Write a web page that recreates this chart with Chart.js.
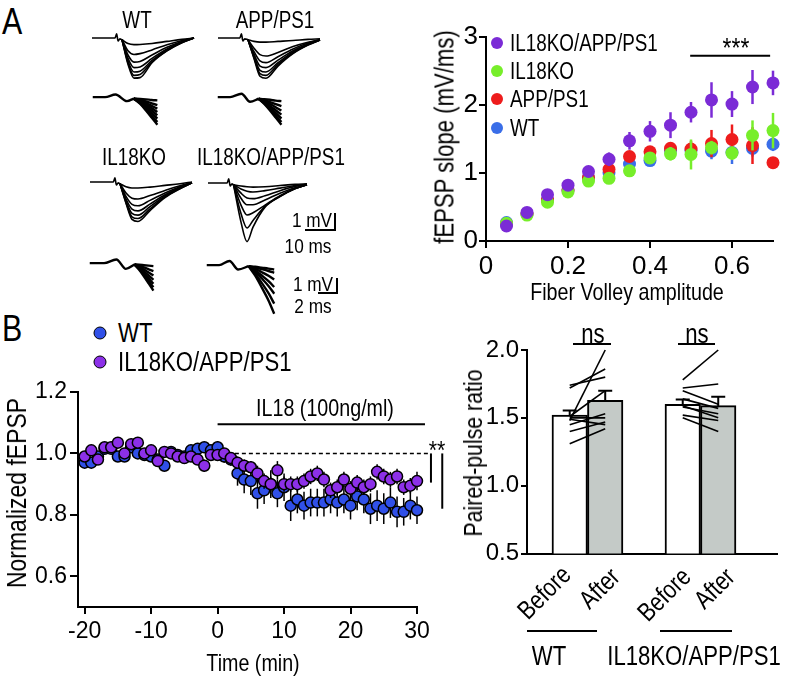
<!DOCTYPE html>
<html>
<head>
<meta charset="utf-8">
<script src="https://cdn.jsdelivr.net/npm/chart.js@4.4.1/dist/chart.umd.min.js"></script>
<style>
  body { margin: 0; width: 793px; height: 683px; position: relative; overflow: hidden; background: #fff;
         font-family: "Liberation Sans", Arial, sans-serif; color: #000; }
  canvas { position: absolute; }
  .t { position: absolute; white-space: nowrap; line-height: 1; }
  .c { transform: translate(-50%, -50%) scaleX(0.82); }
  .l { transform-origin: 0 50%; transform: translateY(-50%) scaleX(0.82); }
  .v { transform: translate(-50%, -50%) rotate(-90deg) scaleX(0.82); }
  .rot { transform-origin: 100% 50%; transform: translate(-100%, -50%) rotate(-45deg) scaleX(0.82); }
  .dot { position: absolute; border-radius: 50%; transform: translate(-50%, -50%); }
  .hl { position: absolute; border-top: 2px solid #000; height: 0; }
  .bar { position: absolute; box-sizing: border-box; border-right: 2px solid #000; border-bottom: 2px solid #000; }
</style>
</head>
<body>
<!-- panel A traces -->
<canvas id="epspWT"></canvas><canvas id="epspAPP"></canvas><canvas id="epspKO"></canvas><canvas id="epspDKO"></canvas>
<canvas id="fvWT"></canvas><canvas id="fvAPP"></canvas><canvas id="fvKO"></canvas><canvas id="fvDKO"></canvas>
<canvas id="ioChart" width="373" height="290" style="left:420px;top:20px"></canvas>
<canvas id="timeChart" width="450" height="313" style="left:0px;top:370px"></canvas>
<canvas id="pprChart" width="343" height="250" style="left:450px;top:320px"></canvas>

<div class="t c" style="left:12px;top:21px;font-size:37px">A</div>
<div class="t c" style="left:137px;top:20px;font-size:23px">WT</div>
<div class="t c" style="left:275px;top:20px;font-size:23px">APP/PS1</div>
<div class="t c" style="left:134px;top:157px;font-size:23px">IL18KO</div>
<div class="t c" style="left:271px;top:157px;font-size:23px">IL18KO/APP/PS1</div>

<div class="bar" style="left:305px;top:213px;width:31px;height:18px"></div>
<div class="t c" style="left:312px;top:219px;font-size:21px">1 mV</div>
<div class="t c" style="left:308px;top:245px;font-size:21px">10 ms</div>
<div class="bar" style="left:318px;top:278px;width:20px;height:16px"></div>
<div class="t c" style="left:313px;top:283px;font-size:21px">1 mV</div>
<div class="t c" style="left:313px;top:305px;font-size:21px">2 ms</div>

<div class="dot" style="left:497px;top:43px;width:12px;height:12px;background:#7b2bd6"></div>
<div class="t l" style="left:510px;top:43px;font-size:23px">IL18KO/APP/PS1</div>
<div class="dot" style="left:497px;top:71px;width:12px;height:12px;background:#77ee2a"></div>
<div class="t l" style="left:510px;top:71px;font-size:23px">IL18KO</div>
<div class="dot" style="left:497px;top:99px;width:12px;height:12px;background:#ee1c1c"></div>
<div class="t l" style="left:510px;top:99px;font-size:23px">APP/PS1</div>
<div class="dot" style="left:497px;top:128px;width:12px;height:12px;background:#3a6ee8"></div>
<div class="t l" style="left:510px;top:128px;font-size:23px">WT</div>
<div class="t c" style="left:736px;top:48px;font-size:28px">***</div>
<div class="t v" style="left:445px;top:137px;font-size:27px">fEPSP slope (mV/ms)</div>
<div class="t c" style="left:627px;top:292px;font-size:24px">Fiber Volley amplitude</div>

<!-- panel B -->
<div class="t c" style="left:12px;top:328px;font-size:37px">B</div>
<div class="dot" style="left:100px;top:333px;width:11px;height:11px;background:#3050e8;border:1.5px solid #000"></div>
<div class="t l" style="left:118px;top:333px;font-size:27px">WT</div>
<div class="dot" style="left:100px;top:362px;width:11px;height:11px;background:#8c30e8;border:1.5px solid #000"></div>
<div class="t l" style="left:118px;top:362px;font-size:27px">IL18KO/APP/PS1</div>
<div class="t c" style="left:325px;top:408px;font-size:24px">IL18 (100ng/ml)</div>
<div class="t c" style="left:437px;top:450px;font-size:26px">**</div>
<div class="t v" style="left:17px;top:493px;font-size:28px">Normalized fEPSP</div>
<div class="t c" style="left:253px;top:663px;font-size:24px">Time (min)</div>

<div class="t v" style="left:473px;top:453px;font-size:26px">Paired-pulse ratio</div>
<div class="t c" style="left:593px;top:334px;font-size:27px">ns</div>
<div class="hl" style="left:573px;top:343px;width:38px"></div>
<div class="t c" style="left:697px;top:334px;font-size:27px">ns</div>
<div class="hl" style="left:678px;top:343px;width:37px"></div>
<div class="t rot" style="left:566px;top:570px;font-size:26px">Before</div>
<div class="t rot" style="left:615px;top:572px;font-size:26px">After</div>
<div class="t rot" style="left:686px;top:572px;font-size:26px">Before</div>
<div class="t rot" style="left:730px;top:572px;font-size:26px">After</div>
<div class="hl" style="left:527px;top:630px;width:70px"></div>
<div class="hl" style="left:660px;top:630px;width:72px"></div>
<div class="t c" style="left:549px;top:656px;font-size:27px">WT</div>
<div class="t c" style="left:694px;top:656px;font-size:27px">IL18KO/APP/PS1</div>

<script>
// ---------- panel A: example traces (ms, mV) ----------
const wtArtifactT = [0, 7.7, 8.2, 8.7, 9.3, 10];
const appArtifactT = [0, 7.3, 7.8, 8.3, 8.9, 10];
const koArtifactT = [0, 7.8, 8.3, 8.8, 9.4, 10];
const dkoArtifactT = [0, 6.4, 6.9, 7.4, 8.0, 8.5];
const artifactV = [0, 0, 0.25, -0.18, -0.05, -0.1];

const epspT = [10, 12, 14, 16, 20, 25, 30, 34];
const dkoEpspT = [8.5, 11, 13, 15, 19, 24, 29, 33];
const wtEpsp = [
  [-0.1, -0.33, -0.39, -0.38, -0.32, -0.2, -0.08, 0],
  [-0.1, -0.75, -0.97, -0.92, -0.7, -0.4, -0.15, 0],
  [-0.1, -1.0, -1.42, -1.38, -1.0, -0.55, -0.2, 0],
  [-0.1, -1.2, -1.74, -1.7, -1.2, -0.65, -0.22, 0],
  [-0.1, -1.35, -2.0, -1.95, -1.32, -0.7, -0.25, 0],
  [-0.1, -1.45, -2.2, -2.15, -1.4, -0.74, -0.27, 0],
  [-0.1, -1.55, -2.36, -2.33, -1.45, -0.76, -0.28, 0],
];
const appEpsp = [
  [-0.1, -0.2, -0.24, -0.24, -0.2, -0.15, -0.08, -0.05],
  [-0.1, -0.6, -0.98, -1.06, -0.85, -0.5, -0.25, -0.1],
  [-0.1, -0.8, -1.35, -1.45, -1.1, -0.65, -0.3, -0.1],
  [-0.1, -0.95, -1.65, -1.74, -1.3, -0.75, -0.35, -0.12],
  [-0.1, -1.05, -1.9, -2.0, -1.45, -0.82, -0.38, -0.12],
  [-0.1, -1.15, -2.1, -2.2, -1.55, -0.88, -0.4, -0.12],
  [-0.1, -1.2, -2.25, -2.37, -1.65, -0.92, -0.42, -0.12],
];
const koEpsp = [
  [-0.1, -0.28, -0.35, -0.35, -0.3, -0.2, -0.1, 0],
  [-0.1, -0.65, -0.95, -1.0, -0.8, -0.5, -0.22, -0.03],
  [-0.1, -0.85, -1.32, -1.4, -1.08, -0.65, -0.28, -0.04],
  [-0.1, -1.0, -1.6, -1.7, -1.3, -0.75, -0.32, -0.05],
  [-0.1, -1.1, -1.85, -1.95, -1.45, -0.82, -0.35, -0.05],
  [-0.1, -1.2, -2.05, -2.15, -1.58, -0.88, -0.38, -0.05],
  [-0.1, -1.25, -2.2, -2.32, -1.68, -0.92, -0.4, -0.05],
];
const dkoEpsp = [
  [-0.1, -0.18, -0.22, -0.24, -0.22, -0.15, -0.08, -0.05],
  [-0.1, -0.35, -0.48, -0.53, -0.45, -0.3, -0.15, -0.08],
  [-0.1, -0.6, -0.88, -0.92, -0.75, -0.45, -0.2, -0.08],
  [-0.1, -0.9, -1.28, -1.28, -1.0, -0.6, -0.28, -0.1],
  [-0.1, -1.3, -1.88, -1.75, -1.3, -0.75, -0.32, -0.1],
  [-0.1, -1.8, -2.65, -2.2, -1.38, -0.78, -0.33, -0.1],
  [-0.1, -2.3, -3.45, -2.6, -1.42, -0.8, -0.34, -0.1],
];

// fiber volley: shared onset, then the fan of traces
const wtFvOnsetT = [0, 1.3, 2.4, 3.6, 4.3];
const wtFvOnsetV = [0, 0, 0.17, -0.27, -0.1];
const appFvOnsetT = [0, 1.3, 2.5, 3.4, 4.3];
const appFvOnsetV = [0, 0, 0.22, -0.31, -0.11];
const koFvOnsetT = [0, 1.5, 2.8, 3.8, 4.7];
const koFvOnsetV = [0, 0, 0.24, -0.38, -0.09];
const dkoFvOnsetT = [0, 1.3, 2.4, 3.3, 4.4];
const dkoFvOnsetV = [0, 0, 0.27, -0.29, -0.07];

const wtFanT = [4.3, 5.0, 5.6, 6.2, 6.8];
const appFanT = [4.3, 4.9, 5.5, 6.1, 6.7];
const koFanT = [4.7, 5.2, 5.7, 6.2, 6.7];
const dkoFanT = [4.4, 5.1, 5.8, 6.5, 7.1];
const wtFan = [
  [-0.1, -0.12, -0.15, -0.19, -0.22],
  [-0.1, -0.19, -0.29, -0.41, -0.53],
  [-0.1, -0.23, -0.4, -0.58, -0.76],
  [-0.1, -0.28, -0.5, -0.73, -0.98],
  [-0.1, -0.32, -0.6, -0.89, -1.2],
  [-0.1, -0.36, -0.69, -1.05, -1.42],
  [-0.1, -0.41, -0.8, -1.22, -1.65],
  [-0.1, -0.45, -0.88, -1.35, -1.83],
];
const appFan = [
  [-0.11, -0.14, -0.18, -0.23, -0.27],
  [-0.11, -0.21, -0.33, -0.46, -0.6],
  [-0.11, -0.27, -0.46, -0.67, -0.89],
  [-0.11, -0.32, -0.58, -0.87, -1.16],
  [-0.11, -0.37, -0.7, -1.05, -1.42],
  [-0.11, -0.42, -0.8, -1.22, -1.65],
  [-0.11, -0.45, -0.88, -1.35, -1.83],
];
const koFan = [
  [-0.09, -0.11, -0.14, -0.17, -0.2],
  [-0.09, -0.18, -0.29, -0.41, -0.53],
  [-0.09, -0.24, -0.42, -0.62, -0.82],
  [-0.09, -0.29, -0.55, -0.82, -1.11],
  [-0.09, -0.35, -0.67, -1.01, -1.37],
  [-0.09, -0.39, -0.77, -1.18, -1.6],
  [-0.09, -0.44, -0.87, -1.34, -1.82],
];
const dkoFan = [
  [-0.07, -0.11, -0.17, -0.23, -0.29],
  [-0.07, -0.16, -0.27, -0.39, -0.51],
  [-0.07, -0.25, -0.47, -0.7, -0.95],
  [-0.07, -0.35, -0.69, -1.06, -1.45],
  [-0.07, -0.43, -0.89, -1.38, -1.89],
  [-0.07, -0.57, -1.19, -1.86, -2.55],
  [-0.07, -0.7, -1.49, -2.34, -3.22],
];

// ---------- panel A: input/output ----------
const fvAmplitude = [0.05, 0.1, 0.15, 0.2, 0.25, 0.3, 0.35, 0.4, 0.45, 0.5, 0.55, 0.6, 0.65, 0.7];
const slopeDKO = [0.22, 0.42, 0.68, 0.82, 1.02, 1.2, 1.47, 1.61, 1.7, 1.89, 2.07, 2.01, 2.26, 2.32];
const errDKO = [0.03, 0.03, 0.05, 0.05, 0.07, 0.1, 0.13, 0.15, 0.19, 0.15, 0.26, 0.19, 0.25, 0.18];
const slopeKO = [0.26, 0.38, 0.57, 0.72, 0.88, 0.92, 1.03, 1.22, 1.28, 1.27, 1.37, 1.29, 1.55, 1.62];
const errKO = [0.03, 0.03, 0.04, 0.04, 0.05, 0.08, 0.08, 0.08, 0.1, 0.22, 0.1, 0.1, 0.22, 0.26];
const slopeAPP = [0.25, 0.4, 0.6, 0.75, 0.93, 1.05, 1.24, 1.31, 1.36, 1.35, 1.43, 1.49, 1.4, 1.15];
const errAPP = [0.03, 0.03, 0.04, 0.04, 0.06, 0.08, 0.08, 0.08, 0.08, 0.12, 0.2, 0.22, 0.27, 0.08];
const slopeWT = [0.27, 0.4, 0.6, 0.75, 0.93, 1.0, 1.13, 1.18, 1.33, 1.33, 1.32, 1.3, 1.36, 1.42];
const errWT = [0.03, 0.03, 0.04, 0.04, 0.05, 0.06, 0.06, 0.07, 0.08, 0.1, 0.12, 0.17, 0.12, 0.1];
const ioXTicks = [0, 0.2, 0.4, 0.6];
const ioXTickLabels = ["0", "0.2", "0.4", "0.6"];
const ioYTicks = [0, 1, 2, 3];

// ---------- panel B: time course ----------
const timeMin = [-20, -19, -18, -17, -16, -15, -14, -13, -12, -11, -10, -9, -8, -7, -6, -5, -4, -3, -2, -1,
  0, 1, 2, 3, 4, 5, 6, 7, 8, 9, 10, 11, 12, 13, 14, 15, 16, 17, 18, 19, 20, 21, 22, 23, 24, 25, 26, 27, 28, 29, 30];
const normWT = [0.97, 0.97, 0.99, 1.015, 1.015, 0.99, 0.99, 1.02, 1.0, 0.995, 0.99, 0.98, 0.96, 1.005, 0.995, 0.99, 1.01, 1.015, 1.02, 1.01,
  1.02, 0.99, 0.98, 0.935, 0.915, 0.91, 0.87, 0.88, 0.9, 0.87, 0.89, 0.83, 0.85, 0.83, 0.84, 0.84, 0.84, 0.85, 0.84, 0.85,
  0.83, 0.86, 0.85, 0.82, 0.83, 0.82, 0.84, 0.81, 0.81, 0.83, 0.815];
const semWT = [0.015, 0.015, 0.015, 0.015, 0.015, 0.015, 0.015, 0.015, 0.015, 0.015, 0.015, 0.015, 0.015, 0.015, 0.015, 0.015, 0.015, 0.015, 0.015, 0.015,
  0.02, 0.02, 0.02, 0.04, 0.045, 0.045, 0.05, 0.045, 0.045, 0.045, 0.045, 0.05, 0.045, 0.045, 0.045, 0.045, 0.045, 0.045, 0.045, 0.045,
  0.045, 0.045, 0.045, 0.05, 0.05, 0.05, 0.05, 0.05, 0.045, 0.045, 0.045];
const normDKO = [0.99, 1.01, 0.98, 1.02, 1.02, 1.035, 1.0, 1.03, 1.035, 1.0, 1.01, 0.975, 1.005, 1.0, 0.99, 0.985, 0.99, 0.98, 0.96, 0.995,
  0.995, 1.0, 0.985, 0.97, 0.96, 0.955, 0.935, 0.91, 0.9, 0.945, 0.9, 0.9, 0.9, 0.91, 0.925, 0.935, 0.915, 0.88, 0.89, 0.915,
  0.885, 0.905, 0.89, 0.9, 0.94, 0.925, 0.915, 0.925, 0.89, 0.895, 0.91];
const semDKO = [0.012, 0.012, 0.012, 0.012, 0.012, 0.012, 0.012, 0.012, 0.012, 0.012, 0.012, 0.012, 0.012, 0.012, 0.012, 0.012, 0.012, 0.012, 0.02, 0.012,
  0.012, 0.015, 0.015, 0.02, 0.02, 0.02, 0.025, 0.025, 0.025, 0.03, 0.025, 0.025, 0.025, 0.025, 0.025, 0.025, 0.025, 0.025, 0.025, 0.025,
  0.025, 0.025, 0.025, 0.025, 0.025, 0.025, 0.025, 0.025, 0.025, 0.025, 0.03];
const timeTicks = [-20, -10, 0, 10, 20, 30];
const normTicks = [0.6, 0.8, 1.0, 1.2];
const normTickLabels = ["0.6", "0.8", "1.0", "1.2"];

// ---------- panel B: paired-pulse ratio ----------
const pprGroups = ["WT", "IL18KO/APP/PS1"];
const pprBefore = [1.52, 1.6];
const pprAfter = [1.63, 1.59];
const pprBeforeSem = [0.035, 0.035];
const pprAfterSem = [0.07, 0.065];
const wtPairBefore = [1.31, 1.4, 1.45, 1.5, 1.49, 1.48, 1.72, 1.74, 1.51];
const wtPairAfter = [1.42, 1.47, 1.53, 1.5, 1.45, 2.0, 1.86, 1.8, 1.7];
const dkoPairBefore = [1.78, 1.72, 1.7, 1.64, 1.58, 1.52, 1.5, 1.59];
const dkoPairAfter = [2.0, 1.75, 1.6, 1.57, 1.53, 1.48, 1.4, 1.5];
const pprTicks = [0.5, 1.0, 1.5, 2.0];
const pprTickLabels = ["0.5", "1.0", "1.5", "2.0"];

// ---------------------------------------------------------------
Chart.defaults.font.family = '"Liberation Sans", Arial, sans-serif';
Chart.defaults.color = "#000";
Chart.defaults.animation = false;
Chart.defaults.responsive = false;
Chart.defaults.plugins.legend.display = false;
Chart.defaults.plugins.tooltip.enabled = false;

const toXY = (xs, ys) => xs.map((x, i) => ({ x, y: ys[i] }));

const errorBarPlugin = {
  id: "errorBars",
  beforeDatasetDraw(chart, args) {
    const ds = chart.data.datasets[args.index];
    if (!ds.errors) return;
    const yScale = chart.scales.y;
    const ctx = chart.ctx;
    ctx.save();
    ctx.strokeStyle = ds.errorColor || "#000";
    ctx.lineWidth = ds.errorWidth || 1.5;
    args.meta.data.forEach((el, i) => {
      const v = ds.data[i].y;
      const e = ds.errors[i];
      const top = yScale.getPixelForValue(v + e);
      const bottom = yScale.getPixelForValue(v - e);
      ctx.beginPath();
      ctx.moveTo(el.x, top);
      ctx.lineTo(el.x, bottom);
      if (ds.errorCap) {
        ctx.moveTo(el.x - ds.errorCap, top);
        ctx.lineTo(el.x + ds.errorCap, top);
      }
      ctx.stroke();
    });
    ctx.restore();
  },
};

const segment = (chart, x1, y1, x2, y2, width, dash) => {
  const { ctx, scales } = chart;
  ctx.save();
  ctx.strokeStyle = "#000";
  ctx.lineWidth = width;
  ctx.setLineDash(dash || []);
  ctx.beginPath();
  ctx.moveTo(scales.x.getPixelForValue(x1), scales.y.getPixelForValue(y1));
  ctx.lineTo(scales.x.getPixelForValue(x2), scales.y.getPixelForValue(y2));
  ctx.stroke();
  ctx.restore();
};

const fixedTicks = (values) => (scale) => {
  scale.ticks = values.map((value) => ({ value }));
};

// trace panels: origin (t=0, 0 mV) in page px, px per ms / per mV
const makeTraceChart = (id, x0, y0, pxMs, pxMv, tRange, vRange, segments, lineWidth) => {
  const canvas = document.getElementById(id);
  canvas.width = Math.round((tRange[1] - tRange[0]) * pxMs);
  canvas.height = Math.round((vRange[1] - vRange[0]) * pxMv);
  canvas.style.left = x0 + tRange[0] * pxMs + "px";
  canvas.style.top = y0 - vRange[1] * pxMv + "px";
  new Chart(canvas, {
    type: "line",
    data: {
      datasets: segments.map(([ts, vs]) => ({
        data: toXY(ts, vs),
        borderColor: "#000",
        borderWidth: lineWidth,
        pointRadius: 0,
        cubicInterpolationMode: "monotone",
        clip: false,
      })),
    },
    options: {
      layout: { padding: 0 },
      scales: {
        x: { type: "linear", display: false, min: tRange[0], max: tRange[1] },
        y: { type: "linear", display: false, min: vRange[0], max: vRange[1] },
      },
    },
  });
};

const epspSegments = (artT, traceT, traces) =>
  [[artT, artifactV]].concat(traces.map((tr) => [traceT, tr]));
const fvSegments = (onT, onV, fanT, fan) => [[onT, onV]].concat(fan.map((tr) => [fanT, tr]));

const EPSP_T = [-1, 36], EPSP_V = [-4, 1];
makeTraceChart("epspWT", 92, 38.3, 3, 17, EPSP_T, EPSP_V, epspSegments(wtArtifactT, epspT, wtEpsp), 1.6);
makeTraceChart("epspAPP", 217.7, 38.3, 3, 17, EPSP_T, EPSP_V, epspSegments(appArtifactT, epspT, appEpsp), 1.6);
makeTraceChart("epspKO", 90, 181.7, 3, 17, EPSP_T, EPSP_V, epspSegments(koArtifactT, epspT, koEpsp), 1.6);
makeTraceChart("epspDKO", 207.7, 182.7, 3, 17, EPSP_T, EPSP_V, epspSegments(dkoArtifactT, dkoEpspT, dkoEpsp), 1.6);

const FV_T = [-0.5, 7.5], FV_V = [-3.5, 0.8];
makeTraceChart("fvWT", 92.3, 97.3, 9.5, 15, FV_T, FV_V, fvSegments(wtFvOnsetT, wtFvOnsetV, wtFanT, wtFan), 2.4);
makeTraceChart("fvAPP", 217.7, 97.3, 9.5, 15, FV_T, FV_V, fvSegments(appFvOnsetT, appFvOnsetV, appFanT, appFan), 2.4);
makeTraceChart("fvKO", 90, 262.7, 9.5, 15, FV_T, FV_V, fvSegments(koFvOnsetT, koFvOnsetV, koFanT, koFan), 2.4);
makeTraceChart("fvDKO", 206.7, 265, 9.5, 15, FV_T, FV_V, fvSegments(dkoFvOnsetT, dkoFvOnsetV, dkoFanT, dkoFan), 2.4);

const axisStyle = (tickLength) => ({
  grid: { drawOnChartArea: false, drawTicks: true, tickLength, color: "#000", lineWidth: 2 },
  border: { display: true, color: "#000", width: 2 },
});

// ---------- input/output chart ----------
const ioDataset = (label, ys, errs, color) => ({
  label,
  data: toXY(fvAmplitude, ys),
  errors: errs,
  errorColor: color,
  errorWidth: 2.5,
  backgroundColor: color,
  borderColor: color,
  pointRadius: 6.5,
  pointBorderWidth: 0,
  clip: false,
});

new Chart(document.getElementById("ioChart"), {
  type: "scatter",
  data: {
    datasets: [
      ioDataset("IL18KO/APP/PS1", slopeDKO, errDKO, "#7b2bd6"),
      ioDataset("IL18KO", slopeKO, errKO, "#77ee2a"),
      ioDataset("APP/PS1", slopeAPP, errAPP, "#ee1c1c"),
      ioDataset("WT", slopeWT, errWT, "#3a6ee8"),
    ],
  },
  options: {
    layout: { padding: { left: 4, top: 14, right: 20, bottom: 0 } },
    scales: {
      x: {
        type: "linear", min: 0, max: 0.7,
        afterBuildTicks: fixedTicks(ioXTicks),
        afterFit: (s) => { s.height = 69; },
        ticks: { callback: (v, i) => ioXTickLabels[i], font: { size: 26 }, padding: 3, maxRotation: 0 },
        ...axisStyle(7),
      },
      y: {
        type: "linear", min: 0, max: 3,
        afterBuildTicks: fixedTicks(ioYTicks),
        afterFit: (s) => { s.width = 62; },
        ticks: { font: { size: 26 }, padding: 1 },
        ...axisStyle(7),
      },
    },
  },
  plugins: [errorBarPlugin, { id: "ioSig", afterDraw: (c) => segment(c, 0.498, 2.72, 0.693, 2.72, 2) }],
});

// ---------- time course chart ----------
const timeDataset = (label, ys, errs, color) => ({
  label,
  data: toXY(timeMin, ys),
  errors: errs,
  errorColor: "#000",
  errorWidth: 1.5,
  backgroundColor: color,
  borderColor: "#000",
  pointRadius: 5.5,
  pointBorderWidth: 1.5,
  clip: false,
});

new Chart(document.getElementById("timeChart"), {
  type: "scatter",
  data: {
    datasets: [
      timeDataset("IL18KO/APP/PS1", normDKO, semDKO, "#8c30e8"),
      timeDataset("WT", normWT, semWT, "#3050e8"),
    ],
  },
  options: {
    layout: { padding: { left: 0, top: 22, right: 33, bottom: 0 } },
    scales: {
      x: {
        type: "linear", min: -21, max: 30,
        afterBuildTicks: fixedTicks(timeTicks),
        afterFit: (s) => { s.height = 76; },
        ticks: { font: { size: 23 }, padding: 4, maxRotation: 0 },
        ...axisStyle(7),
      },
      y: {
        type: "linear", min: 0.5, max: 1.2,
        afterBuildTicks: fixedTicks(normTicks),
        afterFit: (s) => { s.width = 78; },
        ticks: { callback: (v, i) => normTickLabels[i], font: { size: 23 }, padding: 3 },
        ...axisStyle(8),
      },
    },
  },
  plugins: [
    errorBarPlugin,
    {
      id: "timeMarks",
      afterDraw: (c) => {
        segment(c, 0, 1.095, 31.2, 1.095, 2);
        segment(c, 2.6, 1.0, 32, 1.0, 1.6, [4, 3]);
        segment(c, 32.1, 1.0, 32.1, 0.905, 2);
        segment(c, 33.8, 1.0, 33.8, 0.82, 2);
      },
    },
  ],
});

// ---------- paired-pulse ratio chart ----------
const pairSets = [[wtPairBefore, wtPairAfter], [dkoPairBefore, dkoPairAfter]];
const pprIndex = pprGroups.map((g, i) => i);

new Chart(document.getElementById("pprChart"), {
  type: "bar",
  data: {
    datasets: [
      {
        label: "Before", data: toXY(pprIndex, pprBefore), errors: pprBeforeSem, errorCap: 7, errorWidth: 2,
        backgroundColor: "#ffffff", borderColor: "#000", borderWidth: 2, barThickness: 35.5, borderSkipped: false,
      },
      {
        label: "After", data: toXY(pprIndex, pprAfter), errors: pprAfterSem, errorCap: 7, errorWidth: 2,
        backgroundColor: "#c4cac7", borderColor: "#000", borderWidth: 2, barThickness: 35.5, borderSkipped: false,
      },
    ],
  },
  options: {
    layout: { padding: { left: 3, top: 30, right: 16, bottom: 0 } },
    scales: {
      x: {
        type: "linear", min: -0.535, max: 1.677, offset: false,
        afterFit: (s) => { s.height = 13; },
        ticks: { display: false },
        grid: { display: false },
        border: { display: true, color: "#000", width: 2 },
      },
      y: {
        type: "linear", min: 0.5, max: 2.0,
        afterBuildTicks: fixedTicks(pprTicks),
        afterFit: (s) => { s.width = 74; },
        ticks: { callback: (v, i) => pprTickLabels[i], font: { size: 24 }, padding: 2 },
        ...axisStyle(6),
      },
    },
  },
  plugins: [
    errorBarPlugin,
    {
      id: "pairLines",
      afterDatasetsDraw: (c) => {
        const before = c.getDatasetMeta(0).data;
        const after = c.getDatasetMeta(1).data;
        const y = c.scales.y;
        const ctx = c.ctx;
        ctx.save();
        ctx.strokeStyle = "#000";
        ctx.lineWidth = 1.6;
        pairSets.forEach(([b, a], g) => {
          b.forEach((v, i) => {
            ctx.beginPath();
            ctx.moveTo(before[g].x, y.getPixelForValue(v));
            ctx.lineTo(after[g].x, y.getPixelForValue(a[i]));
            ctx.stroke();
          });
        });
        ctx.restore();
      },
    },
  ],
});
</script>
</body>
</html>
